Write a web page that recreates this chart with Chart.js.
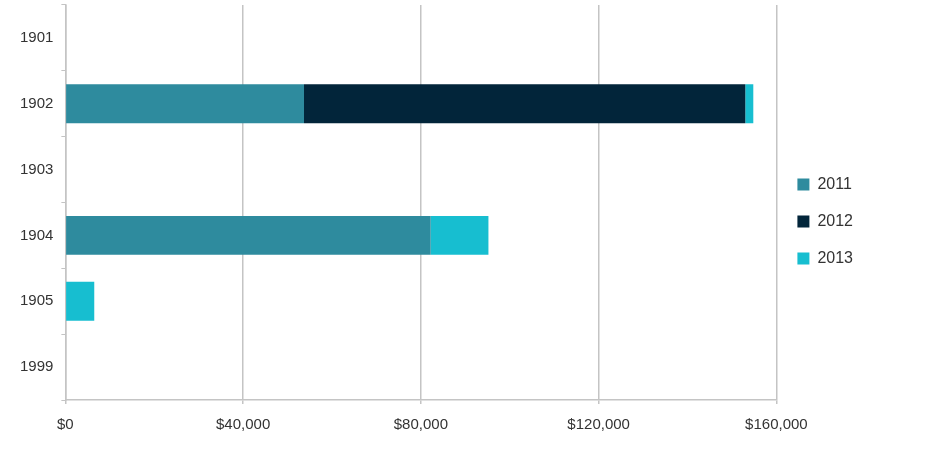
<!DOCTYPE html>
<html>
<head>
<meta charset="utf-8">
<script src="https://cdn.jsdelivr.net/npm/chart.js@4"></script>
<style>
    html, body { margin: 0; padding: 0; background: #fff; }
    #wrap { width: 945px; height: 460px; }
</style>
</head>
<body>
<div id="wrap"><canvas id="grafica"></canvas></div>
<script>
// ==============================
// DATOS
// ==============================
const categorias = ["1901", "1902", "1903", "1904", "1905", "1999"];
const serie2011 = [null, 53700, null, 82200, null, null];
const serie2012 = [null, 99300, null, null, null, null];
const serie2013 = [null, 1800, null, 13000, 6500, null];
const ticksX = [0, 40000, 80000, 120000, 160000];

Chart.defaults.font.family = "'Liberation Sans', Arial, sans-serif";
Chart.defaults.font.size = 15;
Chart.defaults.color = "#333333";

// ==============================
// GRÁFICA: BARRAS APILADAS
// ==============================
new Chart(document.getElementById("grafica"), {
    type: "bar",
    data: {
        labels: categorias,
        datasets: [
            { label: "2011", data: serie2011, backgroundColor: "#2E8B9E" },
            { label: "2012", data: serie2012, backgroundColor: "#02253A" },
            { label: "2013", data: serie2013, backgroundColor: "#17BED0" }
        ]
    },
    options: {
        indexAxis: "y",
        responsive: true,
        maintainAspectRatio: false,
        animation: false,
        barPercentage: 0.59,
        categoryPercentage: 1,
        layout: {
            padding: { top: 5, left: 12, right: 82, bottom: 14 }
        },
        plugins: {
            legend: {
                position: "right",
                // título vacío: sólo sirve para subir un poco la leyenda
                title: {
                    display: true,
                    text: "",
                    font: { size: 1 },
                    padding: { top: -9, bottom: 0 }
                },
                labels: {
                    boxWidth: 12,
                    boxHeight: 12,
                    padding: 21,
                    font: { size: 16 },
                    color: "#333333"
                }
            },
            tooltip: { enabled: false }
        },
        scales: {
            x: {
                stacked: true,
                min: 0,
                max: 160000,
                afterBuildTicks: (eje) => {
                    eje.ticks = ticksX.map(v => ({ value: v }));
                },
                ticks: {
                    padding: 12,
                    callback: (v) => "$" + Number(v).toLocaleString("en-US")
                },
                grid: {
                    color: "#c4c4c4",
                    lineWidth: 1.5,
                    tickLength: 4
                },
                border: { color: "#c4c4c4", width: 1.5 }
            },
            y: {
                stacked: true,
                afterFit: (eje) => {
                    eje.paddingTop = 0;
                    eje.paddingBottom = 0;
                },
                ticks: { padding: 8 },
                grid: {
                    drawOnChartArea: false,
                    color: "#c4c4c4",
                    tickLength: 4
                },
                border: { color: "#c4c4c4", width: 1.5 }
            }
        }
    }
});
</script>
</body>
</html>
